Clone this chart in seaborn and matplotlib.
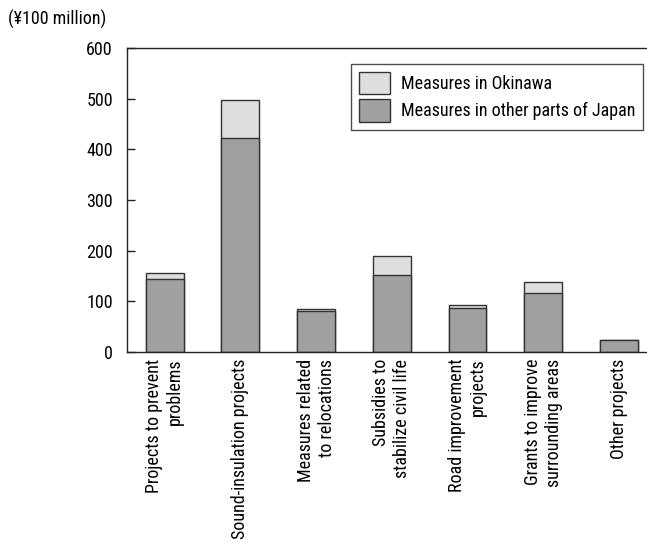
import matplotlib
matplotlib.use("Agg")
import matplotlib.pyplot as plt
import seaborn as sns
import pandas as pd
from matplotlib.patches import Patch
from matplotlib import font_manager

categories = ["Projects to prevent\nproblems", "Sound-insulation projects",
              "Measures related\nto relocations", "Subsidies to\nstabilize civil life",
              "Road improvement\nprojects", "Grants to improve\nsurrounding areas",
              "Other projects"]
other_japan = [144, 423, 81, 151, 87, 117, 23]
okinawa = [12, 75, 3, 39, 5, 21, 0]
y_ticks = [0, 100, 200, 300, 400, 500, 600]

df = pd.DataFrame({"cat": categories, "japan": other_japan, "okinawa": okinawa})
df["total"] = df["japan"] + df["okinawa"]

sns.set_theme(style="white")
installed = {f.name for f in font_manager.fontManager.ttflist}
narrow = [n for n in ["Liberation Sans Narrow", "DejaVu Sans Condensed", "Roboto Condensed"]
          if n in installed]
plt.rcParams["font.family"] = narrow + ["Liberation Sans", "DejaVu Sans"]
plt.rcParams["text.color"] = "black"
plt.rcParams["xtick.color"] = "black"
plt.rcParams["ytick.color"] = "black"
fs = 13 if narrow else 11

light = "#dddedd"
dark = "#a0a0a0"
edge = "#333333"

fig = plt.figure(figsize=(6.47, 5.47), dpi=100)
ax = fig.add_axes([0.196, 0.357, 0.804, 0.555])

# light bars are the totals, dark bars drawn on top give the stacked look
sns.barplot(data=df, x="cat", y="total", color=light, saturation=1, width=0.5,
            edgecolor=edge, linewidth=1, ax=ax)
sns.barplot(data=df, x="cat", y="japan", color=dark, saturation=1, width=0.5,
            edgecolor=edge, linewidth=1, ax=ax)

ax.set_xlim(-0.5, 6.37)
ax.set_ylim(0, 600)
ax.set_yticks(y_ticks)
ax.set_xlabel("")
ax.set_ylabel("")
ax.tick_params(axis="y", direction="in", length=6, width=1, color="#222222",
               labelsize=fs, pad=10, left=True)
ax.tick_params(axis="x", length=0, labelsize=fs, pad=5)
for lbl in ax.get_xticklabels():
    lbl.set_rotation(90)
    lbl.set_multialignment("right")
for s in ["left", "bottom", "top"]:
    ax.spines[s].set_color("#222222")
    ax.spines[s].set_linewidth(1)
ax.spines["right"].set_visible(False)

handles = [Patch(facecolor=light, edgecolor=edge, label="Measures in Okinawa"),
           Patch(facecolor=dark, edgecolor=edge, label="Measures in other parts of Japan")]
leg = ax.legend(handles=handles, loc="upper right", bbox_to_anchor=(0.993, 0.948),
                borderaxespad=0, fontsize=fs, frameon=True, fancybox=False, borderpad=0.45,
                handlelength=1.7, handleheight=1.5, handletextpad=0.6, labelspacing=0.3)
leg.get_frame().set_edgecolor("#222222")
leg.get_frame().set_linewidth(1)

fig.text(0.012, 0.965, "(¥100 million)", fontsize=fs, va="center", ha="left")

fig.savefig("out.png", dpi=100, facecolor="white")
